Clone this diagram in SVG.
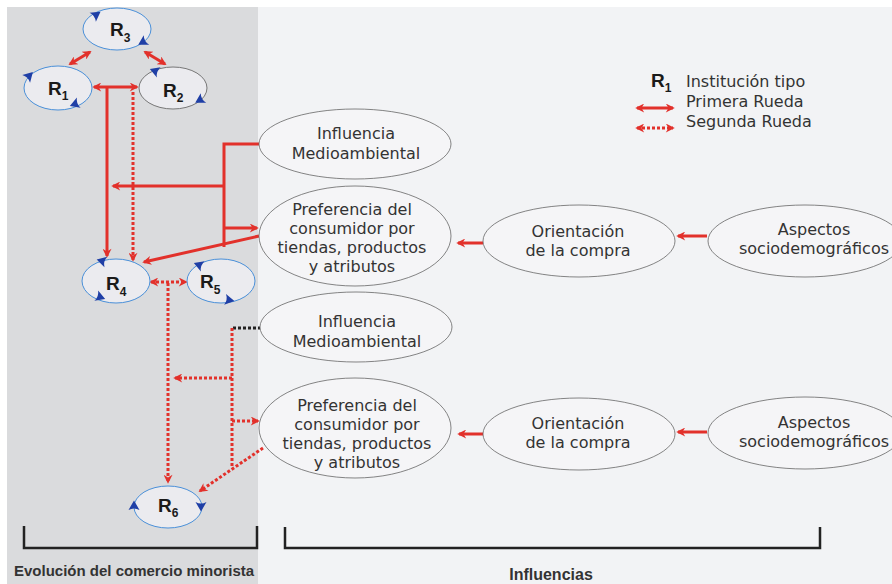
<svg xmlns="http://www.w3.org/2000/svg" width="892" height="584" viewBox="0 0 892 584">
<defs>
<marker id="a" viewBox="0 0 10 10" refX="8" refY="5" markerWidth="10" markerHeight="9" markerUnits="userSpaceOnUse" orient="auto-start-reverse"><path d="M0,0 L10,5 L0,10 L3,5 Z" fill="#e2312b"/></marker>
<path id="bm" d="M5.5,0 L-4,-5.5 Q-1,0 -4,5.5 Z" fill="#1f3fa6"/>
</defs>
<style>
.s{stroke:#e2312b;stroke-width:3;fill:none}
.d{stroke:#e2312b;stroke-width:3;fill:none;stroke-dasharray:3 2}
.k{stroke:#222;stroke-width:3;fill:none;stroke-dasharray:3 2}
.r{fill:#ebebef;stroke:#4a90d9;stroke-width:1}
.e{fill:#f5f5f7;stroke:#666;stroke-width:0.8}
.t{font-family:"DejaVu Sans",sans-serif;font-size:16px;fill:#333;text-anchor:middle}
.lg{font-family:"DejaVu Sans",sans-serif;font-size:16px;fill:#333}
.R{font-family:"Liberation Sans",Arial,sans-serif;font-weight:bold;font-size:19px;fill:#1a1a1a}
.sub{font-size:12px}
.b{font-family:"Liberation Sans",Arial,sans-serif;font-weight:bold;fill:#333}
.br{stroke:#222;stroke-width:2.5;fill:none}
</style>
<rect width="892" height="584" fill="#ffffff"/>
<rect x="7" y="7" width="251" height="577" fill="#dadbdd"/>
<rect x="258" y="7" width="634" height="577" fill="#f2f3f5"/>

<g id="connectors">
<line class="s" x1="70" y1="64" x2="90" y2="52" marker-start="url(#a)" marker-end="url(#a)"/>
<line class="s" x1="145" y1="52" x2="165" y2="64" marker-start="url(#a)" marker-end="url(#a)"/>
<line class="s" x1="94" y1="87" x2="137" y2="87" marker-start="url(#a)" marker-end="url(#a)"/>
<line class="s" x1="107" y1="87" x2="107" y2="256" marker-end="url(#a)"/>
<polyline class="s" points="259,144 224,144 224,247"/>
<line class="s" x1="224" y1="186" x2="113" y2="186" marker-end="url(#a)"/>
<line class="s" x1="224" y1="228" x2="257" y2="228" marker-end="url(#a)"/>
<line class="s" x1="259" y1="236" x2="144" y2="262" marker-end="url(#a)"/>
<line class="s" x1="483" y1="243" x2="458" y2="243" marker-end="url(#a)"/>
<line class="s" x1="707" y1="236" x2="678" y2="236" marker-end="url(#a)"/>
<line class="s" x1="483" y1="434" x2="459" y2="434" marker-end="url(#a)"/>
<line class="s" x1="707" y1="432" x2="678" y2="432" marker-end="url(#a)"/>
<line class="d" x1="133" y1="92" x2="133" y2="260" marker-end="url(#a)"/>
<line class="d" x1="151" y1="282" x2="186" y2="282" marker-start="url(#a)" marker-end="url(#a)"/>
<line class="d" x1="168" y1="283" x2="168" y2="482" marker-end="url(#a)"/>
<line class="k" x1="233" y1="328" x2="260" y2="328"/>
<line class="d" x1="232" y1="328" x2="232" y2="467"/>
<line class="d" x1="232" y1="378" x2="175" y2="378" marker-end="url(#a)"/>
<line class="d" x1="232" y1="421" x2="258" y2="421" marker-end="url(#a)"/>
<line class="d" x1="263" y1="448" x2="200" y2="491" marker-end="url(#a)"/>
</g>

<g id="R3">
<ellipse class="r" cx="117" cy="29" rx="34" ry="21"/>
<use href="#bm" transform="translate(96,15) rotate(-35)"/>
<use href="#bm" transform="translate(143,42) rotate(150)"/>
<text class="R" x="110" y="36">R<tspan class="sub" dy="6">3</tspan></text>
</g>
<g id="R1">
<ellipse class="r" cx="58" cy="88" rx="34" ry="22"/>
<use href="#bm" transform="translate(29,76) rotate(-45)"/>
<use href="#bm" transform="translate(75,104) rotate(160)"/>
<text class="R" x="48" y="95">R<tspan class="sub" dy="5">1</tspan></text>
</g>
<g id="R2">
<ellipse class="r" cx="173" cy="88" rx="34" ry="21" style="stroke:#777"/>
<use href="#bm" transform="translate(155,71) rotate(200)"/>
<use href="#bm" transform="translate(200,100) rotate(150)"/>
<text class="R" x="163" y="97">R<tspan class="sub" dy="5">2</tspan></text>
</g>
<g id="R4">
<ellipse class="r" cx="116" cy="281" rx="34" ry="22"/>
<use href="#bm" transform="translate(102,261) rotate(195)"/>
<use href="#bm" transform="translate(100,297) rotate(20)"/>
<text class="R" x="106" y="290">R<tspan class="sub" dy="6">4</tspan></text>
</g>
<g id="R5">
<ellipse class="r" cx="221" cy="281" rx="34" ry="22"/>
<use href="#bm" transform="translate(199,265) rotate(200)"/>
<use href="#bm" transform="translate(229,300) rotate(10)"/>
<text class="R" x="200" y="288">R<tspan class="sub" dy="6">5</tspan></text>
</g>
<g id="R6">
<ellipse class="r" cx="168" cy="507" rx="34" ry="21"/>
<use href="#bm" transform="translate(134,506) rotate(-90)"/>
<use href="#bm" transform="translate(201,506) rotate(90)"/>
<text class="R" x="158" y="512">R<tspan class="sub" dy="5">6</tspan></text>
</g>

<g id="influencia1">
<ellipse class="e" cx="355" cy="144" rx="96" ry="35"/>
<text class="t" x="356" y="139">Influencia</text>
<text class="t" x="356" y="159">Medioambiental</text>
</g>
<g id="preferencia1">
<ellipse class="e" cx="355" cy="236" rx="96" ry="50"/>
<text class="t" x="352" y="215">Preferencia del</text>
<text class="t" x="352" y="234">consumidor por</text>
<text class="t" x="352" y="253">tiendas, productos</text>
<text class="t" x="352" y="272">y atributos</text>
</g>
<g id="orientacion1">
<ellipse class="e" cx="579" cy="241" rx="96" ry="36"/>
<text class="t" x="578" y="237">Orientación</text>
<text class="t" x="578" y="256">de la compra</text>
</g>
<g id="aspectos1">
<ellipse class="e" cx="805" cy="241" rx="97" ry="36"/>
<text class="t" x="814" y="235">Aspectos</text>
<text class="t" x="814" y="254">sociodemográficos</text>
</g>

<g id="influencia2">
<ellipse class="e" cx="356" cy="327" rx="96" ry="35"/>
<text class="t" x="357" y="327">Influencia</text>
<text class="t" x="357" y="347">Medioambiental</text>
</g>
<g id="preferencia2">
<ellipse class="e" cx="355" cy="428" rx="96" ry="50"/>
<text class="t" x="357" y="411">Preferencia del</text>
<text class="t" x="357" y="430">consumidor por</text>
<text class="t" x="357" y="449">tiendas, productos</text>
<text class="t" x="357" y="468">y atributos</text>
</g>
<g id="orientacion2">
<ellipse class="e" cx="579" cy="434" rx="96" ry="36"/>
<text class="t" x="578" y="429">Orientación</text>
<text class="t" x="578" y="448">de la compra</text>
</g>
<g id="aspectos2">
<ellipse class="e" cx="805" cy="433" rx="97" ry="36"/>
<text class="t" x="814" y="428">Aspectos</text>
<text class="t" x="814" y="447">sociodemográficos</text>
</g>

<g id="legend">
<text class="R" x="651" y="87">R<tspan class="sub" dy="5">1</tspan></text>
<text class="lg" x="686" y="87">Institución tipo</text>
<line class="s" x1="637" y1="108" x2="673" y2="108" marker-start="url(#a)" marker-end="url(#a)"/>
<text class="lg" x="686" y="107">Primera Rueda</text>
<line class="d" x1="637" y1="128" x2="673" y2="128" marker-start="url(#a)" marker-end="url(#a)"/>
<text class="lg" x="686" y="127">Segunda Rueda</text>
</g>

<g id="brackets">
<polyline class="br" points="24,526 24,548 257,548 257,526"/>
<text class="b" x="14" y="576" font-size="15">Evolución del comercio minorista</text>
<polyline class="br" points="285,527 285,548 820,548 820,527"/>
<text class="b" x="551" y="580" font-size="16" text-anchor="middle">Influencias</text>
</g>
</svg>
